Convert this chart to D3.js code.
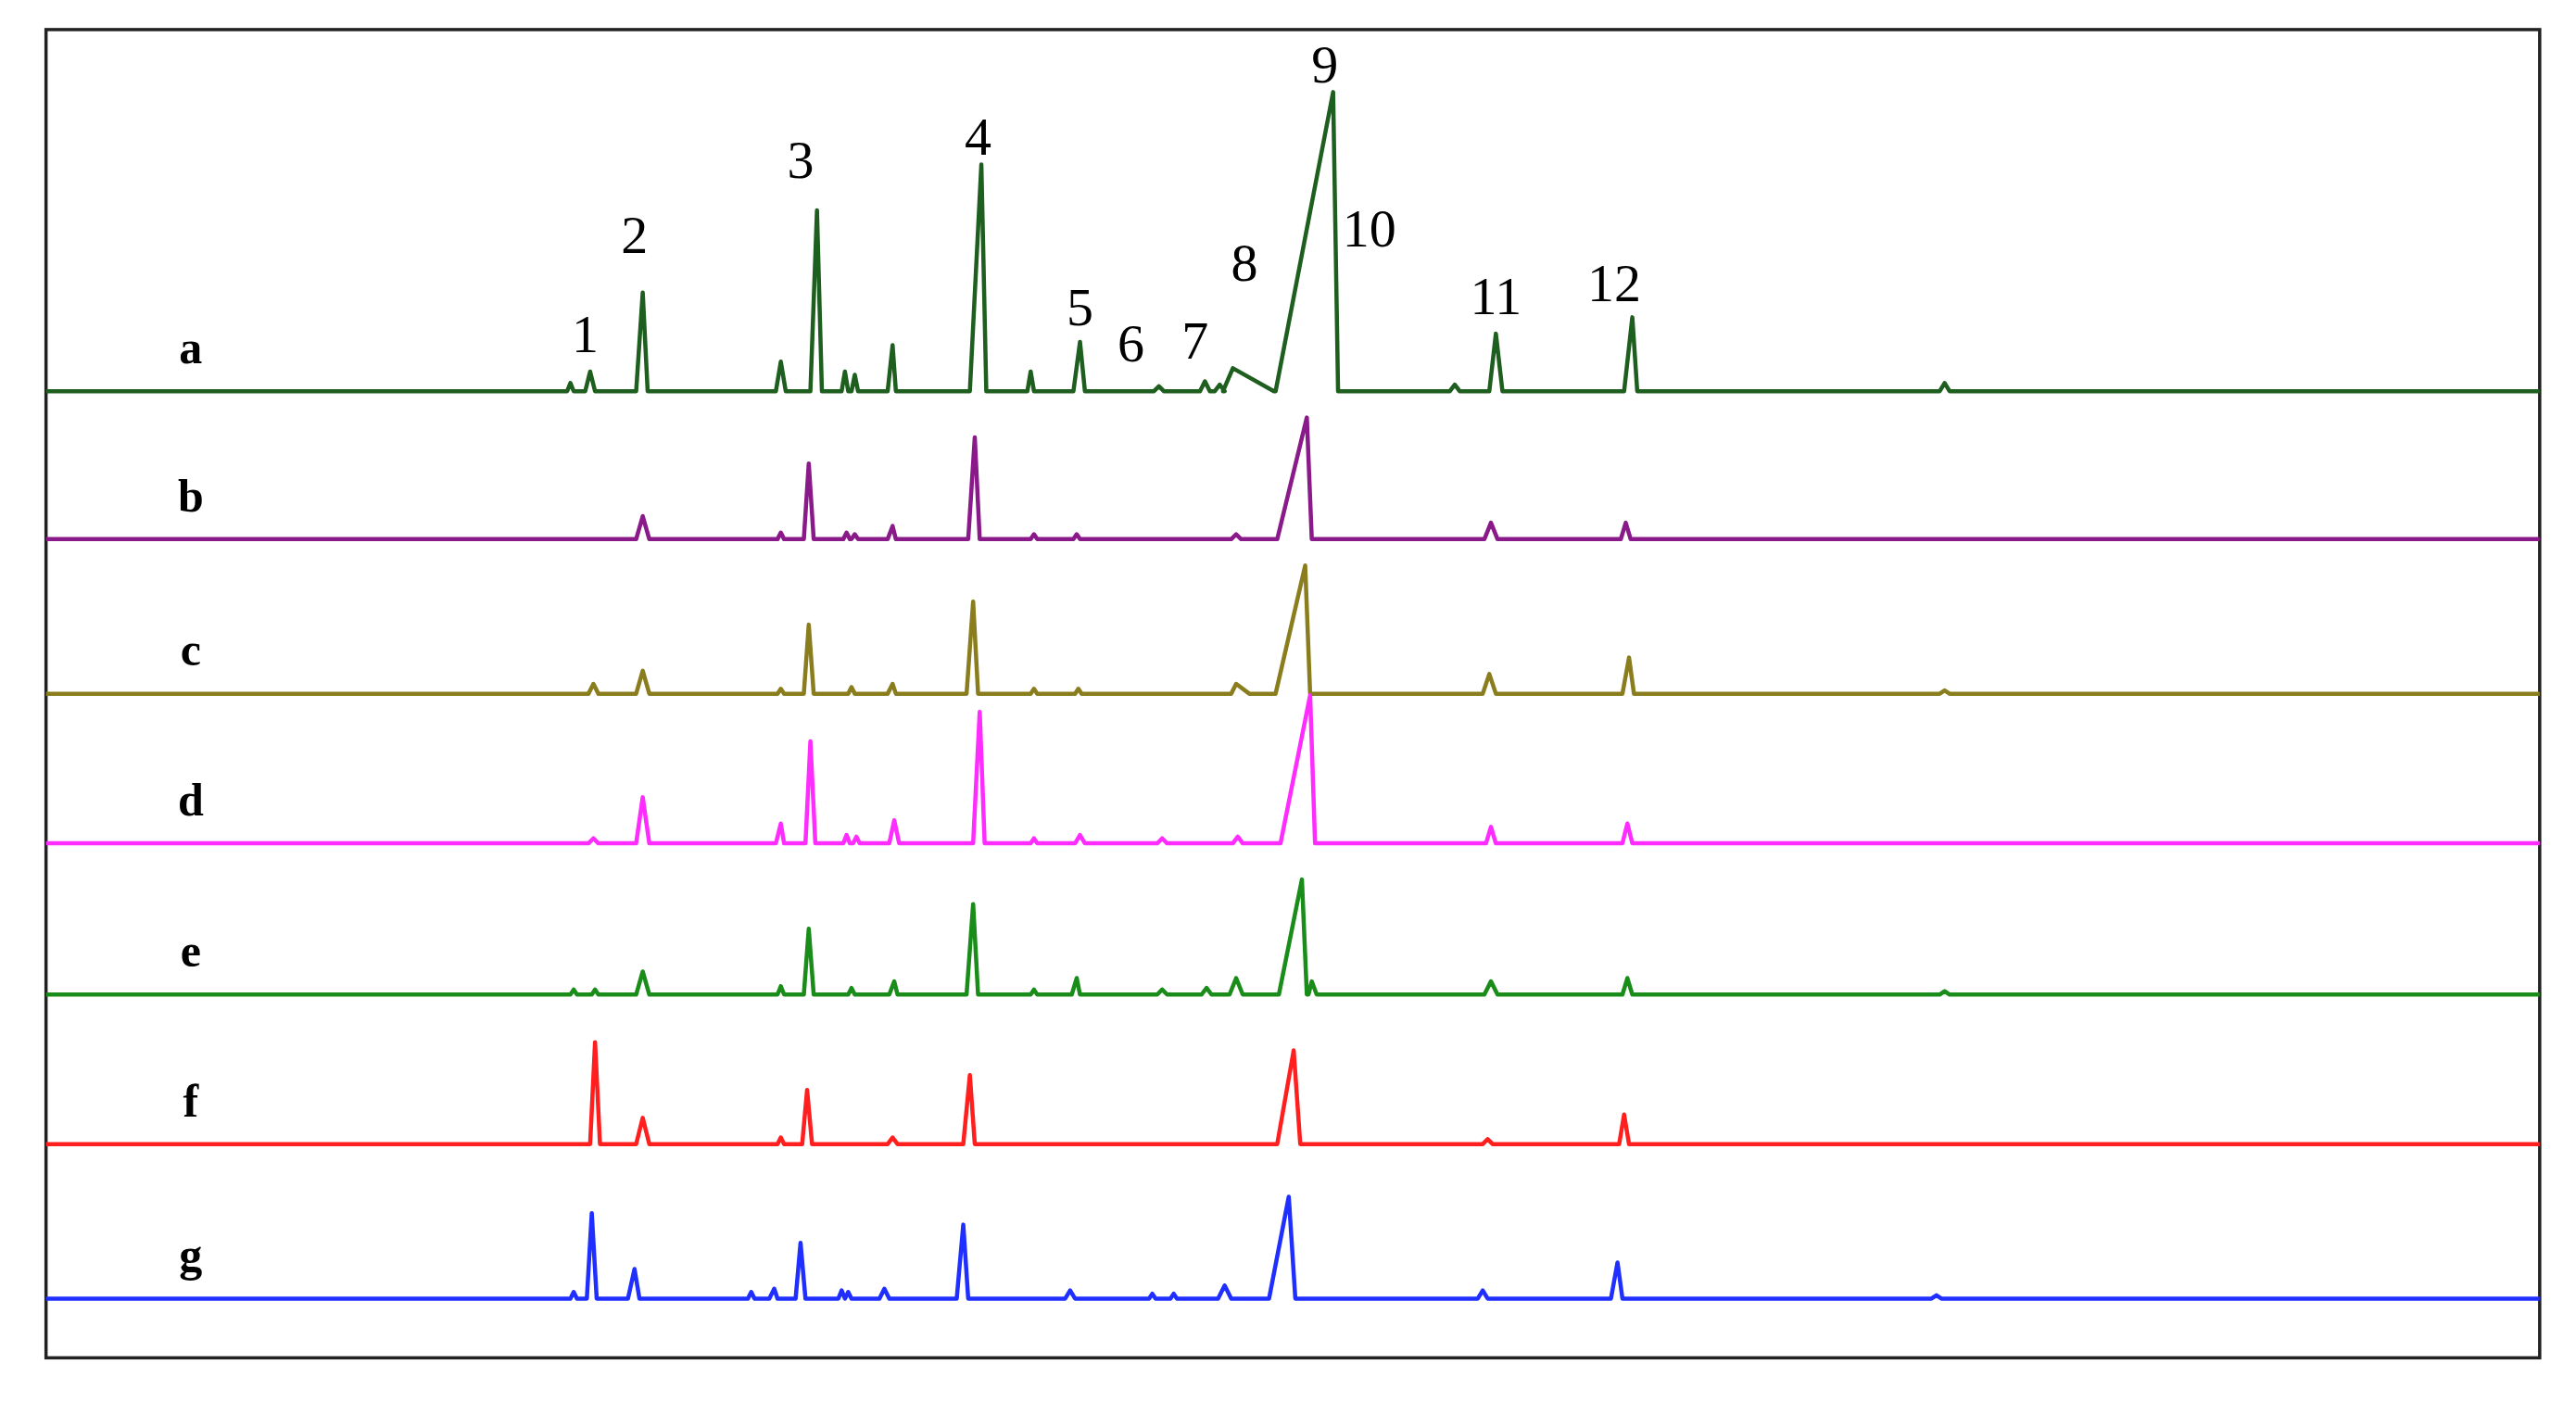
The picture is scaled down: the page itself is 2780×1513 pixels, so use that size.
<!DOCTYPE html>
<html><head><meta charset="utf-8">
<script src="https://cdn.jsdelivr.net/npm/d3@7"></script>
<style>body{margin:0;background:#fff}</style></head>
<body><svg id="c" width="2780" height="1513"></svg>
<script>
// retention time units (arbitrary), intensity units
const traceNames = ["a","b","c","d","e","f","g"];
const traceColors = ["#1e5e1e","#8a1a8a","#8a7d1e","#ff2cff","#1a8c1a","#ff1f1f","#1f2fff"];
// peaks: [time, height, leftWidth, rightWidth]
const peaksA = [[347,5,2,2],[359,12,3,3],[391,60,4,3],[475,18,3,3],[497,110,4,3],[514,12,2,2],[520,10,2,2],[543,28,3,2],[597,138,7,3],[627,12,2,2],[657,30,4,3],[705,3,3,3],[733,6,3,3],[742,4,3,3],[750,14,6,25],[811,182,35,3],[885,4,3,3],[910,35,4,4],[993,45,5,3],[1183,5,3,3]];
const peaksB = [[391,14,4,4],[475,4,2,2],[492,46,3,3],[515,4,2,2],[520,3,2,2],[543,8,3,2],[593,62,4,3],[629,3,2,2],[655,3,2,2],[752,3,3,3],[795,74,18,3],[907,10,4,4],[989,10,3,3]];
const peaksC = [[361,6,3,3],[391,14,4,4],[475,3,2,2],[492,42,3,3],[518,4,2,2],[543,6,3,2],[592,56,4,3],[629,3,2,2],[656,3,2,2],[752,6,3,8],[794,78,18,3],[906,12,4,4],[991,22,4,3],[1183,2,3,3]];
const peaksD = [[361,3,3,3],[391,28,4,4],[475,12,3,2],[493,62,3,3],[515,5,2,2],[521,4,2,2],[544,14,3,3],[596,80,4,3],[629,3,2,2],[657,5,3,3],[707,3,3,3],[753,4,3,3],[797,90,18,3],[907,10,3,3],[990,12,3,3]];
const peaksE = [[349,3,2,2],[362,3,2,2],[391,14,4,4],[475,5,2,2],[492,40,3,3],[518,4,2,2],[544,8,3,2],[592,55,4,3],[629,3,2,2],[655,10,3,2],[707,3,3,3],[734,4,3,3],[752,10,4,4],[792,70,14,3],[798,8,2,3],[907,8,4,4],[990,10,3,3],[1183,2,3,3]];
const peaksF = [[362,62,3,3],[391,16,4,4],[475,4,2,2],[491,33,3,3],[543,4,3,3],[590,42,4,3],[787,57,10,4],[905,3,3,3],[988,18,3,3]];
const peaksG = [[349,4,2,2],[360,52,3,3],[386,18,4,3],[457,4,2,2],[471,6,3,2],[487,34,3,3],[512,5,2,2],[516,4,2,2],[538,6,3,3],[586,45,4,3],[651,5,3,3],[701,3,2,2],[714,3,2,2],[745,8,4,4],[784,62,12,4],[902,5,3,3],[984,22,4,3],[1178,2,3,3]];
const allPeaks = [peaksA,peaksB,peaksC,peaksD,peaksE,peaksF,peaksG];
// peak number labels: [label, time, intensity above trace a baseline]
const peakLabels = [["1",356,18],["2",386,78],["3",487,124],["4",595,138],["5",657,34],["6",688,12],["7",727,14],["8",757,61],["9",806,182],["10",833,82],["11",910,41],["12",982,49]];

const s = 1.774;
const svg = d3.select("#c");
const x = d3.scaleLinear().domain([28,1545]).range([28*s,1545*s]);
const baseY = d3.scaleOrdinal().domain(traceNames).range([238,328,422,513,605,696,790].map(v=>v*s));
const yOff = d3.scaleLinear().domain([0,1]).range([0,-s]);

svg.append("rect").attr("x",x(28)).attr("y",18*s).attr("width",x(1545)-x(28)).attr("height",(826-18)*s)
  .attr("fill","none").attr("stroke","#222").attr("stroke-width",3.5);

const line = d3.line().x(d=>x(d[0])).y(d=>d[1]);
traceNames.forEach((n,i)=>{
  const b = baseY(n);
  const pts = [[28,b]];
  allPeaks[i].slice().sort((p,q)=>p[0]-q[0]).forEach(p=>{
    pts.push([p[0]-p[2],b],[p[0],b+yOff(p[1])],[p[0]+p[3],b]);
  });
  pts.push([1545,b]);
  svg.append("path").attr("d",line(pts)).attr("fill","none").attr("stroke",traceColors[i])
    .attr("stroke-width",4.5).attr("stroke-linejoin","round");
  svg.append("text").attr("x",x(116)).attr("y",b-17*s).attr("text-anchor","middle")
    .attr("font-family","Liberation Serif, Times New Roman, serif").attr("font-weight","bold").attr("font-size",50).text(n);
});
const bA = baseY("a");
peakLabels.forEach(l=>{
  svg.append("text").attr("x",x(l[1])).attr("y",bA+yOff(l[2])-6*s).attr("text-anchor","middle")
    .attr("font-family","Liberation Serif, Times New Roman, serif").attr("font-size",58).text(l[0]);
});
</script></body></html>
